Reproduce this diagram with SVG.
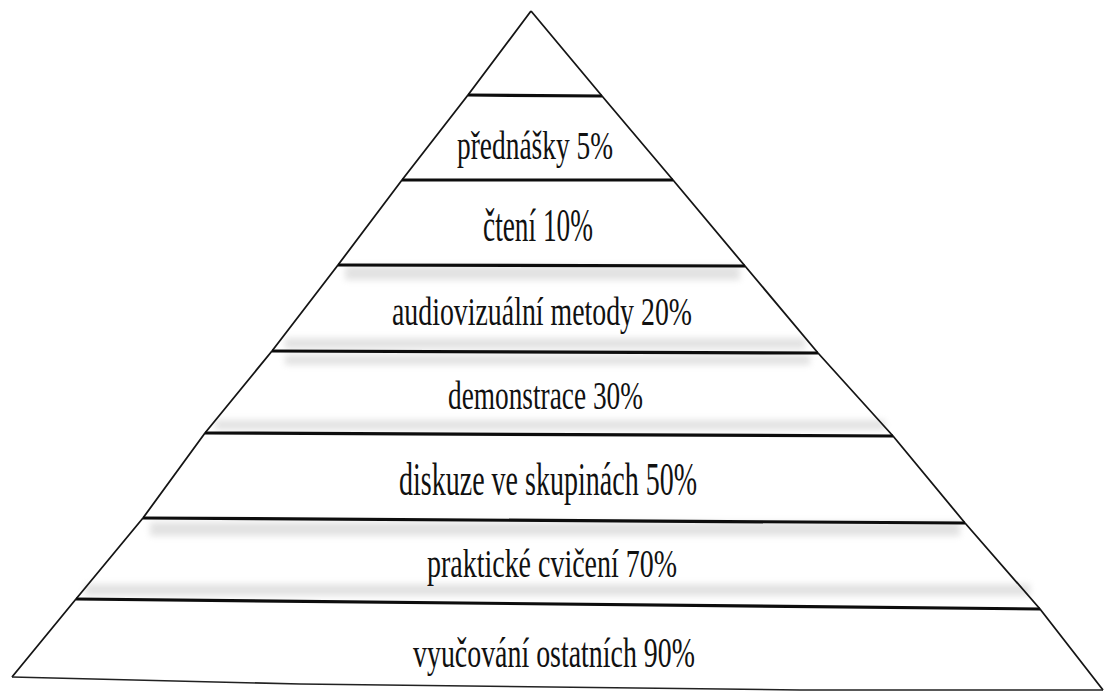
<svg xmlns="http://www.w3.org/2000/svg" width="1104" height="692" viewBox="0 0 1104 692">
  <defs>
    <filter id="haze" x="-5%" y="-200%" width="110%" height="500%">
      <feGaussianBlur stdDeviation="3"/>
    </filter>
  </defs>
  <style>
    .edge { fill: none; stroke: #151515; stroke-width: 1.8; stroke-linejoin: round; }
    .tier { fill: none; stroke: #0d0d0d; stroke-width: 3.2; stroke-linecap: butt; }
    .base { fill: none; stroke: #222; stroke-width: 1.6; }
    .band { fill: #9a9a9a; opacity: 0.28; filter: url(#haze); }
    .label { font-family: "Liberation Serif", "Times New Roman", serif; fill: #111; }
  </style>

  <rect width="1104" height="692" fill="#ffffff"/>

  <!-- soft grey bands along the tier lines -->
  <g id="bands">
    <rect class="band" x="345" y="266" width="395" height="14"/>
    <rect class="band" x="285" y="338" width="520" height="11"/>
    <rect class="band" x="285" y="355" width="525" height="10"/>
    <rect class="band" x="215" y="420" width="670" height="10"/>
    <rect class="band" x="150" y="522" width="810" height="14"/>
    <rect class="band" x="85" y="584" width="945" height="12"/>
  </g>

  <!-- tier separators and outline -->
  <g id="connectors">
    <polyline class="edge" points="531,11 468,95 402,180 338,265 272,351 205,433 143,518 76,599 12,677"/>
    <polyline class="edge" points="531,11 602,96 673,180 745,266 818,353 893,436 965,523 1040,609 1103,690"/>
    <polyline class="base" points="12,677 300,684 800,690 1103,690"/>
    <line class="tier" x1="468" y1="95" x2="602" y2="96"/>
    <line class="tier" x1="402" y1="180" x2="673" y2="180"/>
    <line class="tier" x1="338" y1="265" x2="745" y2="266"/>
    <line class="tier" x1="272" y1="351" x2="818" y2="353"/>
    <line class="tier" x1="205" y1="433" x2="893" y2="436"/>
    <line class="tier" x1="143" y1="518" x2="965" y2="523"/>
    <line class="tier" x1="76" y1="599" x2="1040" y2="609"/>
  </g>

  <g id="tier-1">
    <text class="label" x="457" y="159" font-size="40" textLength="156" lengthAdjust="spacingAndGlyphs">přednášky 5%</text>
  </g>
  <g id="tier-2">
    <text class="label" x="483" y="241" font-size="47" textLength="110" lengthAdjust="spacingAndGlyphs">čtení 10%</text>
  </g>
  <g id="tier-3">
    <text class="label" x="392" y="325" font-size="41" textLength="300" lengthAdjust="spacingAndGlyphs">audiovizuální metody 20%</text>
  </g>
  <g id="tier-4">
    <text class="label" x="448" y="409" font-size="41" textLength="195" lengthAdjust="spacingAndGlyphs">demonstrace 30%</text>
  </g>
  <g id="tier-5">
    <text class="label" x="399" y="495" font-size="47" textLength="298" lengthAdjust="spacingAndGlyphs">diskuze ve skupinách 50%</text>
  </g>
  <g id="tier-6">
    <text class="label" x="427" y="577" font-size="40" textLength="250" lengthAdjust="spacingAndGlyphs">praktické cvičení 70%</text>
  </g>
  <g id="tier-7">
    <text class="label" x="413" y="667" font-size="43" textLength="282" lengthAdjust="spacingAndGlyphs">vyučování ostatních 90%</text>
  </g>
</svg>
